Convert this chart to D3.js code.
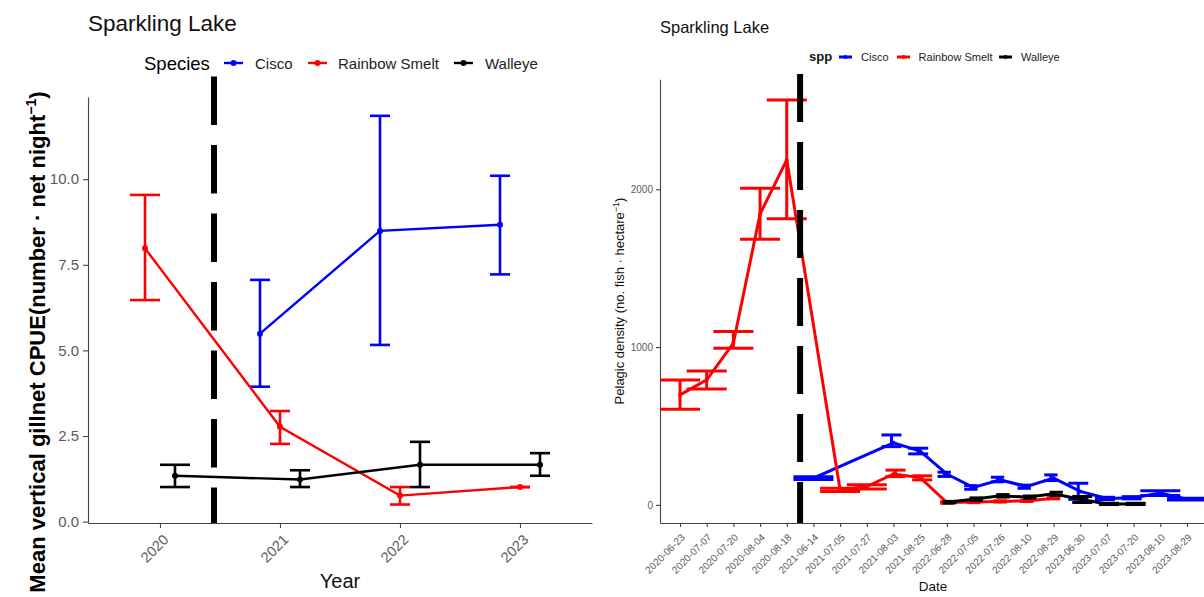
<!DOCTYPE html>
<html>
<head>
<meta charset="utf-8">
<script src="https://cdn.jsdelivr.net/npm/d3@7"></script>
<style>
body { margin: 0; background: #fff; }
text { font-family: "Liberation Sans", Arial, sans-serif; }
</style>
</head>
<body>
<svg id="chart" width="1204" height="597"></svg>
<script>
const species = ['Cisco', 'Rainbow Smelt', 'Walleye']
const colours = ['#0000ff', '#ff0000', '#000000']

// left panel : vertical gillnet CPUE by year
const years = ['2020', '2021', '2022', '2023']
const ciscoCpue   = [null, 5.49, 8.49, 8.67]
const ciscoCpueLo = [null, 3.94, 5.16, 7.22]
const ciscoCpueHi = [null, 7.06, 11.85, 10.10]
const smeltCpue   = [7.98, 2.77, 0.76, 1.01]
const smeltCpueLo = [6.47, 2.27, 0.50, 1.01]
const smeltCpueHi = [9.54, 3.23, 1.01, 1.01]
const walleyeCpue   = [1.34, 1.23, 1.66, 1.66]
const walleyeCpueLo = [1.01, 1.01, 1.01, 1.34]
const walleyeCpueHi = [1.66, 1.50, 2.33, 2.00]
const cpueTicks = [0, 2.5, 5, 7.5, 10]
const cpueBreak = 1.45   // category position of the dashed line

// right panel : pelagic density by survey date
const dates = ['2020-06-23','2020-07-07','2020-07-20','2020-08-04','2020-08-18',
  '2021-06-14','2021-07-05','2021-07-27','2021-08-03','2021-08-25',
  '2022-06-28','2022-07-05','2022-07-26','2022-08-10','2022-08-29',
  '2023-06-30','2023-07-07','2023-07-20','2023-08-10','2023-08-29']
const ciscoDensity   = [null,null,null,null,null, 169,null,null,393,341, 195,110,158,116,169, 85,40,45,75,36]
const ciscoDensityLo = [null,null,null,null,null, 160,null,null,369,323, 180,99,146,105,154, 35,33,38,60,30]
const ciscoDensityHi = [null,null,null,null,null, 178,null,null,443,359, 207,122,175,125,190, 137,48,52,90,42]
const smeltDensity   = [697,792,1025,1843,2186, null,95,116,196,173, 15,18,22,25,42, null,null,null,null,null]
const smeltDensityLo = [606,735,993,1683,1814, null,85,100,179,158, 10,14,18,21,38, null,null,null,null,null]
const smeltDensityHi = [792,849,1098,2006,2566, null,105,127,220,184, 20,22,26,29,46, null,null,null,null,null]
const walleyeDensity   = [null,null,null,null,null, null,null,null,null,null, 17,36,57,49,70, 36,6,6,null,null]
const walleyeDensityLo = [null,null,null,null,null, null,null,null,null,null, 12,28,49,42,59, 15,2,2,null,null]
const walleyeDensityHi = [null,null,null,null,null, null,null,null,null,null, 22,44,65,56,80, 53,10,10,null,null]
const densityTicks = [0, 1000, 2000]
const densityBreak = 5.5

const svg = d3.select('#chart')

let rows = (spp, vals, lo, hi, cats) => cats.map((c, i) => ({spp, cat: c, y: vals[i], lo: lo[i], hi: hi[i]}))
  .filter(d => d.y != null)

let dodge = (data, cats) => {
  cats.forEach(c => {
    const here = data.filter(d => d.cat === c)
    here.forEach((d, k) => { d.n = here.length; d.k = k })
  })
}

let colourOf = s => colours[species.indexOf(s)]

let styleAxis = (g, size) => {
  g.select('.domain').attr('stroke', '#444').attr('stroke-width', 1.1)
  g.selectAll('.tick line').attr('stroke', '#444').attr('stroke-width', 1.1)
  g.selectAll('.tick text').attr('fill', '#5a5a5a').style('font-size', size + 'px')
    .style('font-family', '"Liberation Sans", Arial, sans-serif')
}

// ---------------- left panel ----------------
const cpueData = [].concat(
  rows('Cisco', ciscoCpue, ciscoCpueLo, ciscoCpueHi, years),
  rows('Rainbow Smelt', smeltCpue, smeltCpueLo, smeltCpueHi, years),
  rows('Walleye', walleyeCpue, walleyeCpueLo, walleyeCpueHi, years))
dodge(cpueData, years)

const xL = d3.scalePoint().domain(years).range([88, 592]).padding(0.6)
const yL = d3.scaleLinear().domain([-0.04, 12.4]).range([523, 97])
const dodgeL = 0.5
let cxL = d => xL(d.cat) + (d.k - (d.n - 1) / 2) * dodgeL / d.n * xL.step()

const left = svg.append('g')

left.append('g').attr('transform', 'translate(0,523)')
  .call(d3.axisBottom(xL).tickSize(5).tickSizeOuter(0))
  .call(g => styleAxis(g, 14.5))
  .selectAll('.tick text')
  .attr('x', 0).attr('y', 0).attr('dy', 0)
  .attr('text-anchor', 'end')
  .attr('transform', 'translate(9,17.6) rotate(-45)')

left.append('g').attr('transform', 'translate(88,0)')
  .call(d3.axisLeft(yL).tickValues(cpueTicks).tickFormat(d3.format('.1f')).tickSize(5).tickSizeOuter(0))
  .call(g => styleAxis(g, 15))
  .selectAll('.tick text').attr('x', -9)

const lineL = d3.line().x(cxL).y(d => yL(d.y))

species.forEach(s => {
  const sd = cpueData.filter(d => d.spp === s)
  const col = colourOf(s)
  left.append('path').datum(sd).attr('d', lineL)
    .attr('fill', 'none').attr('stroke', col).attr('stroke-width', 2.4)
  const eb = left.append('g').attr('stroke', col).attr('stroke-width', 2.6)
  sd.forEach(d => {
    const x = cxL(d), hw = dodgeL / d.n * xL.step() / 2
    eb.append('line').attr('x1', x).attr('x2', x).attr('y1', yL(d.lo)).attr('y2', yL(d.hi))
    eb.append('line').attr('x1', x - hw).attr('x2', x + hw).attr('y1', yL(d.lo)).attr('y2', yL(d.lo))
    eb.append('line').attr('x1', x - hw).attr('x2', x + hw).attr('y1', yL(d.hi)).attr('y2', yL(d.hi))
  })
  left.append('g').selectAll('circle').data(sd).join('circle')
    .attr('cx', cxL).attr('cy', d => yL(d.y)).attr('r', 3).attr('fill', col)
})

const breakXL = xL(years[0]) + (cpueBreak - 1) * xL.step()
left.append('line')
  .attr('x1', breakXL).attr('x2', breakXL)
  .attr('y1', yL(13.0)).attr('y2', yL(yL.domain()[0]))
  .attr('stroke', '#000').attr('stroke-width', 6).attr('stroke-dasharray', '48.5,20')

left.append('text').attr('x', 88).attr('y', 31).style('font-size', '22.5px').attr('fill', '#111')
  .text('Sparkling Lake')

left.append('text').attr('x', 340).attr('y', 588).attr('text-anchor', 'middle')
  .style('font-size', '20px').attr('fill', '#111').text('Year')

const ytL = left.append('text').attr('transform', 'translate(45,342) rotate(-90)')
  .attr('text-anchor', 'middle').style('font-size', '22px').style('font-weight', 'bold').attr('fill', '#000')
ytL.append('tspan').text('Mean vertical gillnet CPUE(number \u00b7 net night')
ytL.append('tspan').attr('dy', -9).style('font-size', '14px').text('\u22121')
ytL.append('tspan').attr('dy', 9).text(')')

// legend left
const legL = left.append('g')
legL.append('text').attr('x', 144).attr('y', 70).style('font-size', '18.5px').attr('fill', '#000').text('Species')
const legLPos = [[224, 255], [308, 338], [454, 485]]
species.forEach((s, i) => {
  const [kx, tx] = legLPos[i]
  legL.append('line').attr('x1', kx).attr('x2', kx + 19).attr('y1', 63).attr('y2', 63)
    .attr('stroke', colours[i]).attr('stroke-width', 2.4)
  legL.append('circle').attr('cx', kx + 9.5).attr('cy', 63).attr('r', 3).attr('fill', colours[i])
  legL.append('text').attr('x', tx).attr('y', 69).style('font-size', '15px').attr('fill', '#222').text(s)
})

// ---------------- right panel ----------------
const densData = [].concat(
  rows('Cisco', ciscoDensity, ciscoDensityLo, ciscoDensityHi, dates),
  rows('Rainbow Smelt', smeltDensity, smeltDensityLo, smeltDensityHi, dates),
  rows('Walleye', walleyeDensity, walleyeDensityLo, walleyeDensityHi, dates))
dodge(densData, dates)

const xR = d3.scalePoint().domain(dates).range([660, 1207]).padding(0.75)
const yR = d3.scaleLinear().domain([-115, 2697]).range([523, 79.3])
const capR = 1.5, dodgeR = 0.3
let exR = d => xR(d.cat) + (d.k - (d.n - 1) / 2) * dodgeR / d.n * xR.step()

const right = svg.append('g')

right.append('g').attr('transform', 'translate(0,523)')
  .call(d3.axisBottom(xR).tickSize(4).tickSizeOuter(0))
  .call(g => styleAxis(g, 10))
  .selectAll('.tick text')
  .attr('x', 0).attr('y', 0).attr('dy', 0)
  .attr('text-anchor', 'end')
  .attr('transform', 'translate(5,15) rotate(-45)')

right.append('g').attr('transform', 'translate(660,0)')
  .call(d3.axisLeft(yR).tickValues(densityTicks).tickFormat(d3.format('d')).tickSize(4).tickSizeOuter(0))
  .call(g => styleAxis(g, 10))
  .selectAll('.tick text').attr('x', -7)

const lineR = d3.line().x(d => xR(d.cat)).y(d => yR(d.y))

species.forEach(s => {
  const sd = densData.filter(d => d.spp === s)
  const col = colourOf(s)
  right.append('path').datum(sd).attr('d', lineR)
    .attr('fill', 'none').attr('stroke', col).attr('stroke-width', 3)
  const eb = right.append('g').attr('stroke', col).attr('stroke-width', 3)
  sd.filter(d => d.lo != null).forEach(d => {
    const x = exR(d), hw = capR / d.n * xR.step() / 2
    eb.append('line').attr('x1', x).attr('x2', x).attr('y1', yR(d.lo)).attr('y2', yR(d.hi))
    eb.append('line').attr('x1', x - hw).attr('x2', x + hw).attr('y1', yR(d.lo)).attr('y2', yR(d.lo))
    eb.append('line').attr('x1', x - hw).attr('x2', x + hw).attr('y1', yR(d.hi)).attr('y2', yR(d.hi))
  })
  right.append('g').selectAll('circle').data(sd).join('circle')
    .attr('cx', d => xR(d.cat)).attr('cy', d => yR(d.y)).attr('r', 2).attr('fill', col)
})

const breakXR = xR(dates[0]) + (densityBreak - 1) * xR.step()
right.append('line')
  .attr('x1', breakXR).attr('x2', breakXR)
  .attr('y1', yR(2730)).attr('y2', yR(yR.domain()[0]))
  .attr('stroke', '#000').attr('stroke-width', 6).attr('stroke-dasharray', '48,20')

right.append('text').attr('x', 660).attr('y', 33).style('font-size', '16.5px').attr('fill', '#111')
  .text('Sparkling Lake')

right.append('text').attr('x', 933).attr('y', 591).attr('text-anchor', 'middle')
  .style('font-size', '13.5px').attr('fill', '#111').text('Date')

const ytR = right.append('text').attr('transform', 'translate(624,301) rotate(-90)')
  .attr('text-anchor', 'middle').style('font-size', '13px').attr('fill', '#111')
ytR.append('tspan').text('Pelagic density (no. fish \u00b7 hectare')
ytR.append('tspan').attr('dy', -5).style('font-size', '9px').text('\u22121')
ytR.append('tspan').attr('dy', 5).text(')')

const legR = right.append('g')
legR.append('text').attr('x', 809).attr('y', 61).style('font-size', '13px').style('font-weight', 'bold')
  .attr('fill', '#111').text('spp')
const legRPos = [[839, 861], [897, 918.6], [999, 1021]]
species.forEach((s, i) => {
  const [kx, tx] = legRPos[i]
  legR.append('line').attr('x1', kx).attr('x2', kx + 13).attr('y1', 57).attr('y2', 57)
    .attr('stroke', colours[i]).attr('stroke-width', 3)
  legR.append('circle').attr('cx', kx + 6.5).attr('cy', 57).attr('r', 2).attr('fill', colours[i])
  legR.append('text').attr('x', tx).attr('y', 61).style('font-size', '11px').attr('fill', '#222').text(s)
})
</script>
</body>
</html>
